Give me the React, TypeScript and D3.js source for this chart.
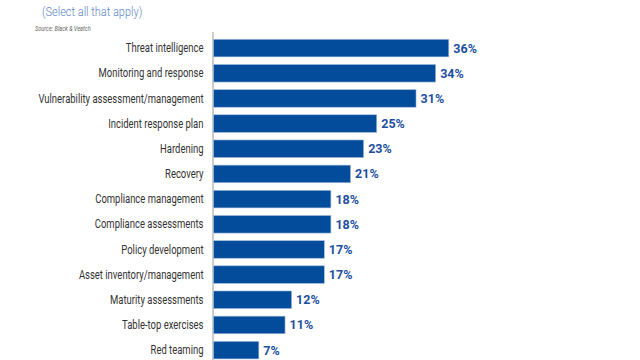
import React from "react";
import * as d3 from "d3";

const categories = [
  "Threat intelligence",
  "Monitoring and response",
  "Vulnerability assessment/management",
  "Incident response plan",
  "Hardening",
  "Recovery",
  "Compliance management",
  "Compliance assessments",
  "Policy development",
  "Asset inventory/management",
  "Maturity assessments",
  "Table-top exercises",
  "Red teaming",
];
const values = [36, 34, 31, 25, 23, 21, 18, 18, 17, 17, 12, 11, 7];
const valueLabels = values.map((v) => `${v}%`);

const W = 640;
const H = 360;
const axisX = 213;

export default function App() {
  const x = d3.scaleLinear().domain([0, 40]).range([axisX, axisX + 262]);
  const y = d3
    .scaleBand<string>()
    .domain(categories)
    .range([35.5, 35.5 + 25.17 * categories.length])
    .paddingInner(0.3)
    .paddingOuter(0.15);

  return (
    <svg
      width={W}
      height={H}
      style={{ position: "absolute", left: 0, top: 0, background: "#fff" }}
      fontFamily="Roboto, sans-serif"
    >
      <g transform="translate(42,15.5)">
        <text transform="scale(0.88,1)" fontSize={12.5} fill="#5b86c4" fontWeight={300}>
          (Select all that apply)
        </text>
      </g>
      <g transform="translate(35,31)">
        <text transform="scale(0.8,1)" fontSize={7} fill="#666" fontStyle="italic">
          Source: Black &amp; Veatch
        </text>
      </g>
      <line x1={axisX} x2={axisX} y1={32} y2={H} stroke="#999" strokeWidth={1} />
      {categories.map((c, i) => {
        const yy = y(c)!;
        const bh = y.bandwidth();
        return (
          <g key={c}>
            <rect
              x={axisX + 0.5}
              y={yy}
              width={x(values[i]) - axisX - 0.5}
              height={bh}
              fill="#034c9c"
              stroke="#a9bfdc"
              strokeWidth={0.6}
            />
            <g transform={`translate(203.5, ${yy + bh / 2 + 4.2})`}>
              <text
                transform="scale(0.79,1)"
                textAnchor="end"
                fontSize={12}
                fill="#333"
              >
                {c}
              </text>
            </g>
            <text
              x={x(values[i]) + 4.5}
              y={yy + bh / 2 + 4.5}
              fontSize={12.5}
              fontWeight={700}
              fill="#1c4f9e"
            >
              {valueLabels[i]}
            </text>
          </g>
        );
      })}
    </svg>
  );
}
